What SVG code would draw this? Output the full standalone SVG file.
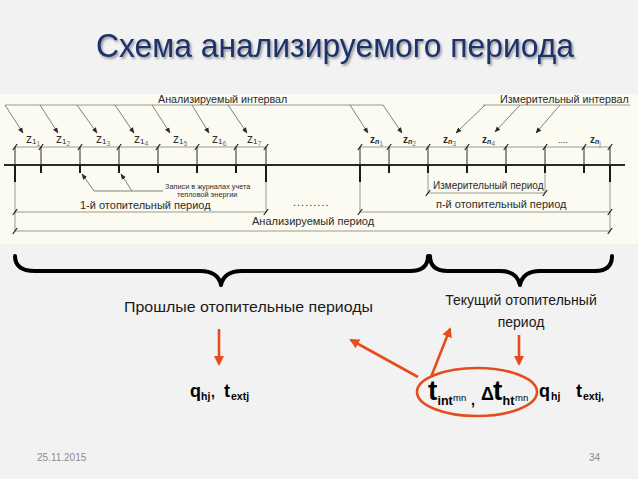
<svg xmlns="http://www.w3.org/2000/svg" width="638" height="479" viewBox="0 0 638 479">
<defs>
<style>
.f{font-family:"Liberation Sans",Arial,sans-serif}
.pt{font-family:"Liberation Sans",Arial,sans-serif;fill:#2b2b2b}
.thin{stroke:#8e8e86;stroke-width:0.9;fill:none}
.ldr{stroke:#4a4a4a;stroke-width:0.7;fill:none}
.tk{stroke:#2a2a2a;stroke-width:1}
.bt{stroke:#1a1a1a;stroke-width:2}
.sl{stroke:#1a1a1a;stroke-width:1.2}
.red{stroke:#e64d1e;stroke-width:2.6;fill:none}
.br{stroke:#000;stroke-width:4;fill:none;stroke-linecap:round;stroke-linejoin:round}
.m{font-family:"Liberation Sans",Arial,sans-serif;font-weight:bold;fill:#000}
.mr{font-weight:normal}
</style>
<filter id="sh" x="-5%" y="-20%" width="110%" height="150%"><feDropShadow dx="1.5" dy="1.8" stdDeviation="1" flood-color="#000" flood-opacity="0.4"/></filter>
<path id="s" class="sl" d="M-2.2,3 L2.2,-3"/>
<marker id="ah" viewBox="0 0 10 10" refX="9" refY="5" markerWidth="6" markerHeight="6" markerUnits="userSpaceOnUse" orient="auto"><path d="M0,1 L10,5 L0,9 z" fill="#2a2a2a"/></marker>
<marker id="ra" viewBox="0 0 10 10" refX="8" refY="5" markerWidth="10" markerHeight="10" markerUnits="userSpaceOnUse" orient="auto"><path d="M0,0 L10,5 L0,10 z" fill="#e64d1e"/></marker>
</defs>
<rect width="638" height="479" fill="#f2f2f2"/>

<g id="title">
<text class="f" x="96" y="57" font-size="34" textLength="478" lengthAdjust="spacingAndGlyphs" fill="#1c306a" filter="url(#sh)">Схема анализируемого периода</text>
</g>

<g id="panel">
<rect x="0" y="94" width="638" height="150" fill="#fcfbf1"/>
<line class="thin" x1="5" y1="105" x2="383" y2="105"/>
<line class="thin" x1="483" y1="105" x2="630" y2="105"/>
<text class="pt" x="158" y="103" font-size="10.7">Анализируемый интервал</text>
<text class="pt" x="500" y="103" font-size="10.7">Измерительный интервал</text>
<g class="ldr" marker-end="url(#ah)">
<line x1="5" y1="105" x2="23" y2="133"/>
<line x1="40" y1="105" x2="58" y2="133"/>
<line x1="77" y1="105" x2="97" y2="133"/>
<line x1="115" y1="105" x2="134" y2="133"/>
<line x1="152" y1="105" x2="170" y2="133"/>
<line x1="192" y1="105" x2="209" y2="133"/>
<line x1="228" y1="105" x2="247" y2="133"/>
<line x1="350" y1="105" x2="368" y2="133"/>
<line x1="383" y1="105" x2="402" y2="133"/>
<line x1="485" y1="105" x2="456" y2="133"/>
<line x1="520" y1="105" x2="495" y2="132"/>
<line x1="560" y1="105" x2="536" y2="133"/>
</g>
<g class="pt" font-size="12">
<text x="26" y="143">z<tspan font-size="8" dy="1">1</tspan><tspan font-size="7" dy="2" fill="#777">1</tspan></text>
<text x="56" y="143">z<tspan font-size="8" dy="1">1</tspan><tspan font-size="7" dy="2" fill="#777">2</tspan></text>
<text x="96" y="143">z<tspan font-size="8" dy="1">1</tspan><tspan font-size="7" dy="2" fill="#777">3</tspan></text>
<text x="134" y="143">z<tspan font-size="8" dy="1">1</tspan><tspan font-size="7" dy="2" fill="#777">4</tspan></text>
<text x="173" y="143">z<tspan font-size="8" dy="1">1</tspan><tspan font-size="7" dy="2" fill="#777">5</tspan></text>
<text x="212" y="143">z<tspan font-size="8" dy="1">1</tspan><tspan font-size="7" dy="2" fill="#777">6</tspan></text>
<text x="247" y="143">z<tspan font-size="8" dy="1">1</tspan><tspan font-size="7" dy="2" fill="#777">7</tspan></text>
<text x="370" y="143" font-weight="bold" font-size="10">z<tspan font-size="7" font-style="italic" dy="1">n</tspan><tspan font-size="7" font-weight="normal" dy="2" fill="#777">1</tspan></text>
<text x="403" y="143" font-weight="bold" font-size="10">z<tspan font-size="7" font-style="italic" dy="1">n</tspan><tspan font-size="7" font-weight="normal" dy="2" fill="#777">2</tspan></text>
<text x="443" y="143" font-weight="bold" font-size="10">z<tspan font-size="7" font-style="italic" dy="1">n</tspan><tspan font-size="7" font-weight="normal" dy="2" fill="#777">3</tspan></text>
<text x="482" y="143" font-weight="bold" font-size="10">z<tspan font-size="7" font-style="italic" dy="1">n</tspan><tspan font-size="7" font-weight="normal" dy="2" fill="#777">4</tspan></text>
<text x="558" y="143" font-size="9">....</text>
<text x="590" y="143" font-weight="bold" font-size="10">z<tspan font-size="7" font-style="italic" dy="1">n</tspan><tspan font-size="7" font-weight="normal" dy="2" fill="#777">j</tspan></text>
</g>
<line class="thin" x1="15" y1="147" x2="267" y2="147"/>
<line class="thin" x1="360" y1="147" x2="611" y2="147"/>
<g class="tk">
<line x1="15" y1="147" x2="15" y2="165"/><line x1="41" y1="147" x2="41" y2="165"/><line x1="80" y1="147" x2="80" y2="165"/><line x1="119" y1="147" x2="119" y2="165"/><line x1="158" y1="147" x2="158" y2="165"/><line x1="197" y1="147" x2="197" y2="165"/><line x1="236" y1="147" x2="236" y2="165"/><line x1="266" y1="147" x2="266" y2="165"/>
<line x1="360" y1="147" x2="360" y2="165"/><line x1="389" y1="147" x2="389" y2="165"/><line x1="428" y1="147" x2="428" y2="165"/><line x1="467" y1="147" x2="467" y2="165"/><line x1="506" y1="147" x2="506" y2="165"/><line x1="545" y1="147" x2="545" y2="165"/><line x1="584" y1="147" x2="584" y2="165"/><line x1="610" y1="147" x2="610" y2="165"/>
</g>
<line x1="4" y1="165" x2="625" y2="165" stroke="#2a2a2a" stroke-width="2"/>
<g class="bt">
<line x1="15" y1="165" x2="15" y2="182"/><line x1="41" y1="165" x2="41" y2="173"/><line x1="80" y1="165" x2="80" y2="173"/><line x1="119" y1="165" x2="119" y2="173"/><line x1="158" y1="165" x2="158" y2="173"/><line x1="197" y1="165" x2="197" y2="173"/><line x1="236" y1="165" x2="236" y2="173"/><line x1="266" y1="165" x2="266" y2="182"/>
<line x1="360" y1="165" x2="360" y2="182"/><line x1="389" y1="165" x2="389" y2="173"/><line x1="428" y1="165" x2="428" y2="173"/><line x1="467" y1="165" x2="467" y2="173"/><line x1="506" y1="165" x2="506" y2="173"/><line x1="545" y1="165" x2="545" y2="173"/><line x1="584" y1="165" x2="584" y2="173"/><line x1="610" y1="165" x2="610" y2="182"/>
</g>
<g class="thin">
<line x1="15" y1="182" x2="15" y2="231"/><line x1="266" y1="182" x2="266" y2="212"/>
<line x1="360" y1="182" x2="360" y2="212"/><line x1="610" y1="182" x2="610" y2="231"/>
<line x1="428" y1="173" x2="428" y2="193"/><line x1="545" y1="173" x2="545" y2="193"/>
</g>
<g class="thin">
<line x1="15" y1="212" x2="266" y2="212"/>
<line x1="360" y1="212" x2="610" y2="212"/>
<line x1="15" y1="231" x2="610" y2="231"/>
<line x1="428" y1="193" x2="545" y2="193"/>
</g>
<g>
<use href="#s" x="15" y="147"/><use href="#s" x="41" y="147"/><use href="#s" x="80" y="147"/><use href="#s" x="119" y="147"/><use href="#s" x="158" y="147"/><use href="#s" x="197" y="147"/><use href="#s" x="236" y="147"/><use href="#s" x="266" y="147"/>
<use href="#s" x="360" y="147"/><use href="#s" x="389" y="147"/><use href="#s" x="428" y="147"/><use href="#s" x="467" y="147"/><use href="#s" x="506" y="147"/><use href="#s" x="545" y="147"/><use href="#s" x="584" y="147"/><use href="#s" x="610" y="147"/>
<use href="#s" x="15" y="212"/><use href="#s" x="266" y="212"/><use href="#s" x="360" y="212"/><use href="#s" x="610" y="212"/>
<use href="#s" x="15" y="231"/><use href="#s" x="610" y="231"/>
<use href="#s" x="428" y="193"/><use href="#s" x="545" y="193"/>
</g>
<g class="ldr">
<line x1="94" y1="191" x2="82" y2="174" marker-end="url(#ah)"/>
<line x1="132" y1="191" x2="121" y2="174" marker-end="url(#ah)"/>
<line x1="94" y1="191" x2="163" y2="191"/>
</g>
<text class="pt" x="165" y="188.5" font-size="7.3">Записи в журналах учета</text>
<text class="pt" x="177" y="196.5" font-size="7.3">тепловой энергии</text>
<text class="pt" x="80" y="209" font-size="11">1-й отопительный период</text>
<text class="pt" x="293" y="206" font-size="11" letter-spacing="1">.........</text>
<text class="pt" x="252" y="225" font-size="11">Анализируемый период</text>
<text class="pt" x="433" y="189" font-size="10">Измерительный период</text>
<text class="pt" x="436" y="208" font-size="11">п-й отопительный период</text>
</g>

<g id="braces">
<path class="br" d="M15,256 Q15,271 35,271 L200,271 Q218,271 221,285 Q224,271 242,271 L410,271 Q428,271 428,256"/>
<path class="br" d="M430,256 Q430,271 448,271 L500,271 Q517,271 520,285 Q523,271 540,271 L595,271 Q612,271 612,256"/>
</g>

<g id="labels" class="f" fill="#1a1a1a" font-size="14">
<text x="124" y="312" textLength="249" lengthAdjust="spacingAndGlyphs">Прошлые отопительные периоды</text>
<text x="521" y="305" text-anchor="middle">Текущий отопительный</text>
<text x="521" y="327" text-anchor="middle">период</text>
</g>

<g id="connectors">
<line class="red" x1="219" y1="329" x2="219" y2="364" marker-end="url(#ra)"/>
<line class="red" x1="519" y1="335" x2="519" y2="364" marker-end="url(#ra)"/>
<line class="red" x1="418" y1="377" x2="351" y2="340" marker-end="url(#ra)"/>
<line class="red" x1="431" y1="377" x2="450" y2="329" marker-end="url(#ra)"/>
<ellipse class="red" cx="477" cy="392" rx="60" ry="24"/>
</g>

<g id="formulas">
<text class="m" y="397"><tspan x="190" font-size="18">q</tspan><tspan x="201" y="400" font-size="10.5">hj</tspan><tspan x="211" y="397" font-size="14">,</tspan><tspan x="224" font-size="18">t</tspan><tspan x="231" y="400" font-size="10.5">extj</tspan></text>
<text class="m" y="400"><tspan x="428" font-size="28">t</tspan><tspan x="437.5" y="405" font-size="12.5">int</tspan><tspan class="mr" x="453" y="401" font-size="9.5">mn</tspan><tspan x="471" y="405" font-size="14">,</tspan><tspan x="481" y="400" font-size="18">Δ</tspan><tspan x="493" font-size="28">t</tspan><tspan x="502.5" y="405" font-size="12.5">ht</tspan><tspan class="mr" x="515" y="401" font-size="9.5">mn</tspan><tspan x="539" y="397" font-size="18">q</tspan><tspan x="551" y="400" font-size="10.5">hj</tspan><tspan x="576" y="397" font-size="18">t</tspan><tspan x="583" y="400" font-size="10.5">extj,</tspan></text>
</g>

<g id="footer" class="f" fill="#8c8c8c" font-size="10">
<text x="37" y="461">25.11.2015</text>
<text x="589" y="461">34</text>
</g>
</svg>
